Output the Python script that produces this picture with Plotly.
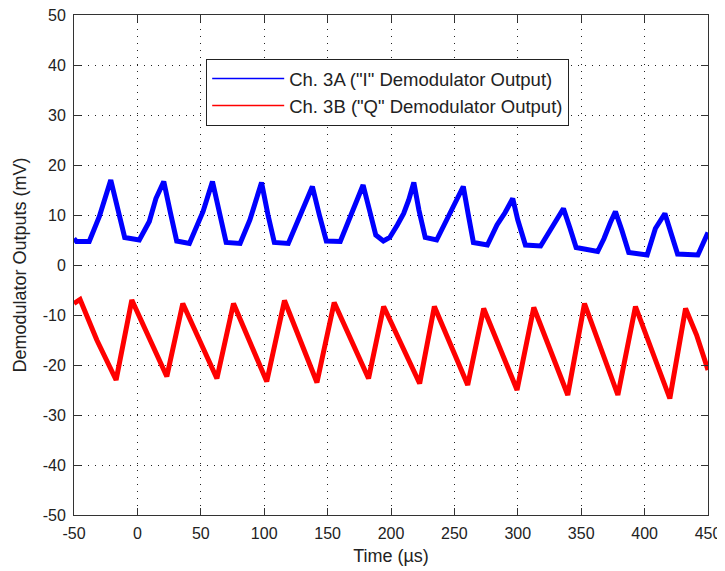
import plotly.graph_objects as go

# Ch. 3A ("I") demodulator output: vertices (time in us, value in mV)
i_time = [-50, -48, -38, -30, -21, -15, -10, 1.5, 9.4, 14.6, 20.8, 26, 31, 41, 46, 51.8, 59.2,
          65, 70, 81, 88.7, 93, 97.9, 103, 108, 119, 128, 133, 138, 143.5, 149, 160, 168, 173,
          178, 183, 188, 194, 199, 205, 210, 214, 218, 222, 227, 236, 241, 246.5, 252, 257, 261,
          265, 276, 283.6, 290, 296, 300, 306, 318, 326, 331, 336, 341, 346, 363, 368, 373, 377,
          382, 387.5, 402, 408.5, 416, 421, 426, 442, 446, 450]
i_value = [5.3, 4.7, 4.7, 9.7, 17, 10.5, 5.5, 5, 8.7, 13.3, 16.7, 10.5, 4.8, 4.3, 7.5, 10.7, 16.7,
           10, 4.5, 4.3, 9, 12.5, 16.5, 10, 4.5, 4.3, 10, 12.5, 15.7, 10, 4.8, 4.7, 10, 13,
           16, 11, 6, 4.8, 5.5, 8, 10.3, 13, 16.5, 11, 5.5, 5, 7.5, 10.7, 13.5, 15.7, 10,
           4.5, 4, 8, 10.5, 13.3, 9, 4, 3.8, 7, 9, 11.3, 7.5, 3.5, 2.7, 5.3, 8.5, 10.7,
           7, 2.5, 2, 7.3, 10.3, 6, 2.2, 2, 4, 6.5]

# Ch. 3B ("Q") demodulator output
q_time = [-50, -45.2, -32, -16.8, -4.4, 10.1, 23.2, 35.8, 49, 62.7, 75.8, 89, 102, 116, 129,
          141.6, 155.2, 169, 182.3, 194.2, 208, 222.6, 234.2, 247, 260.5, 273.1, 286, 299.4,
          312.6, 326, 339.4, 352.6, 366, 378.9, 392.8, 406, 419.9, 432.3, 441, 450]
q_value = [-7.7, -6.9, -15, -23, -7, -15.3, -22.3, -7.7, -15, -22.7, -7.7, -15.5, -23.3, -7.1,
           -15.5, -23.5, -7.5, -15, -22.7, -8.3, -16, -23.7, -8.3, -16, -24, -8.7, -16.5, -25,
           -8.5, -17, -26, -7.7, -17, -26, -8.3, -17, -26.7, -8.7, -14, -21]

series_names = ['Ch. 3A ("I" Demodulator Output)', 'Ch. 3B ("Q" Demodulator Output)']
series_colors = ["#0000ff", "#ff0000"]

x_ticks = [-50, 0, 50, 100, 150, 200, 250, 300, 350, 400, 450]
y_ticks = [-50, -40, -30, -20, -10, 0, 10, 20, 30, 40, 50]

FONT = "Liberation Sans, Arial, sans-serif"

fig = go.Figure()
for xs, ys, name, color in [(i_time, i_value, series_names[0], series_colors[0]),
                            (q_time, q_value, series_names[1], series_colors[1])]:
    fig.add_trace(go.Scatter(x=xs, y=ys, mode="lines", name=name, showlegend=False,
                             line=dict(color=color, width=5)))
# legend entries drawn with a thin line, as in the original
for name, color in zip(series_names, series_colors):
    fig.add_trace(go.Scatter(x=[None], y=[None], mode="lines", name=name,
                             line=dict(color=color, width=1.5)))

axis_common = dict(
    showline=True, linecolor="#333333", linewidth=1, mirror="ticks",
    ticks="inside", ticklen=7, tickcolor="#333333",
    showgrid=True, gridcolor="#222222", gridwidth=1, griddash="1px,6px",
    zeroline=False, tickfont=dict(family=FONT, size=16, color="#222222"),
    automargin=False, ticklabeloverflow="allow",
)

fig.update_xaxes(range=[-50, 450], tickvals=x_ticks, ticktext=[str(v) for v in x_ticks],
                 title=dict(text="Time (µs)", font=dict(family=FONT, size=18, color="#222222"),
                            standoff=8),
                 ticklabelstandoff=4, **axis_common)
fig.update_yaxes(range=[-50, 50], tickvals=y_ticks, ticktext=[str(v) for v in y_ticks],
                 title=dict(text="Demodulator Outputs (mV)",
                            font=dict(family=FONT, size=18, color="#222222"), standoff=11),
                 ticklabelstandoff=4, **axis_common)

# the page adds an 8 px body margin, so the figure is 8 px smaller and its margins shifted
fig.update_layout(
    width=717, height=563,
    margin=dict(l=66, r=17, t=7, b=56),
    paper_bgcolor="white", plot_bgcolor="white",
    showlegend=True,
    legend=dict(x=0.2085, y=0.912, xanchor="left", yanchor="top",
                bgcolor="white", bordercolor="#222222", borderwidth=1,
                font=dict(family=FONT, size=18.5, color="#222222"),
                itemwidth=72, tracegroupgap=0),
    font=dict(family=FONT),
)

fig.write_html("out.html")
